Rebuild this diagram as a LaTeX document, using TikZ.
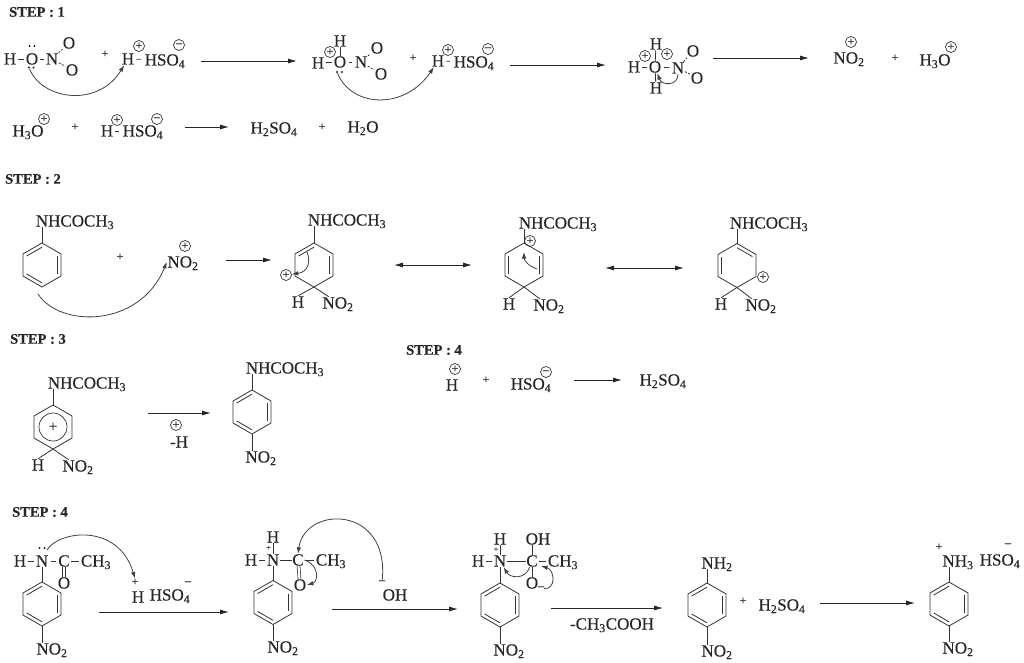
\documentclass[tikz,border=0pt]{standalone}
\usepackage{fontspec}
\setmainfont[FakeBold=0.35]{Liberation Serif}
\usepackage{tikz}
\usetikzlibrary{arrows.meta}
\usetikzlibrary{calc}
\newcommand{\chemfont}{\fontsize{17}{20}\selectfont}
\newcommand{\chs}[1]{\textsubscript{#1}}

\begin{document}
\begin{tikzpicture}[x=1pt,y=-1pt]
        \tikzset{atom/.style = {inner sep=0.5pt, text height=11pt, text depth=0pt, text=black!85, font=\chemfont}}
        \tikzset{steplabel/.style = {inner sep=0pt, anchor=west, text=black!85, font=\fontsize{14.5}{16}\selectfont\bfseries}}
        \tikzset{sgn/.style = {inner sep=0pt, text=black!85, font=\fontsize{12}{12}\selectfont}}
        \tikzset{tinysgn/.style = {inner sep=0pt, text=black!85, font=\fontsize{8.5}{9}\selectfont}}
        \tikzset{chg/.style = {circle, draw=black!80, line width=0.7pt, inner sep=0pt, minimum size=11pt, text=black!85, font=\fontsize{12}{12}\selectfont}}
        \tikzset{lp/.style = {circle, fill=black!85, inner sep=0pt, minimum size=2.4pt}}
        \tikzset{edge/.style = {-, draw=black!80, line width=0.8pt}}
        \tikzset{dbond/.style = {-, draw=black!80, line width=0.7pt, double, double distance=2.2pt}}
        \tikzset{nobond/.style = {-, draw=black!80, line width=0.8pt, dash pattern=on 2pt off 1.5pt}}
        \tikzset{arrow/.style = {-{Latex[length=9pt,width=5pt]}, draw=black!85, line width=0.8pt}}
        \tikzset{twoway/.style = {{Latex[length=9pt,width=5pt]}-{Latex[length=9pt,width=5pt]}, draw=black!85, line width=0.8pt}}
        \tikzset{curly/.style = {-{Latex[length=6.5pt,width=4.5pt]}, draw=black!75, line width=0.8pt}}

        \useasboundingbox (0,0) rectangle (1024,663);

        % rings
        \foreach \rname/\rx/\ry in {ra/42/265, rb/314/265, rc/524/265, rd/737/265.5, re/53/427, rf/252/412, rg/42/604, rh/273/602.5, ri/500/605, rj/707/605, rk/949/604} {
            \coordinate (\rname c) at (\rx,\ry);
            \foreach \k/\ang in {1/-90, 2/-30, 3/30, 4/90, 5/150, 6/210} {
                \coordinate (\rname\k) at ($(\rx,\ry)+(\ang:22)$);
            }
            \draw[edge] (\rname1) -- (\rname2) -- (\rname3) -- (\rname4) -- (\rname5) -- (\rname6) -- cycle;
        }
        \foreach \rname/\p/\q in {ra/6/1, ra/2/3, ra/4/5, rb/6/1, rb/2/3, rc/5/6, rc/2/3, rd/1/2, rd/5/6, rf/6/1, rf/2/3, rf/4/5, rg/6/1, rg/2/3, rg/4/5, rh/6/1, rh/2/3, rh/4/5, ri/6/1, ri/2/3, ri/4/5, rj/6/1, rj/2/3, rj/4/5, rk/6/1, rk/2/3, rk/4/5} {
            \draw[edge] ($(\rname\p)!.19!(\rname c)$) to ($(\rname\q)!.19!(\rname c)$);
        }

        % step 1
        \node[steplabel] (st1) at (9,12) {STEP : 1};

        \node[atom] (h1) at (10,59) {H};
        \node[atom] (o1) at (32,59) {O};
        \node[atom] (n1) at (52,59) {N};
        \node[atom] (o1a) at (69,43) {O};
        \node[atom] (o1b) at (72,70) {O};
        \node[sgn] (pl1) at (105,54) {+};
        \node[atom] (h2) at (128,59) {H};
        \node[atom] (hs1) at (165,60) {HSO\chs{4}};
        \node[chg] (cp1) at (139,46) {+};
        \node[chg] (cm1) at (179,45) {--};

        \node[atom] (h3) at (318,63) {H};
        \node[atom] (h3a) at (340,41) {H};
        \node[atom] (o2) at (340,62) {O};
        \node[atom] (n2) at (361,62) {N};
        \node[atom] (o2a) at (377,48) {O};
        \node[atom] (o2b) at (381,74) {O};
        \node[chg] (cp2) at (330,52) {+};
        \node[sgn] (pl2) at (413,58) {+};
        \node[atom] (h4) at (438,61) {H};
        \node[atom] (hs2) at (474,62) {HSO\chs{4}};
        \node[chg] (cp3) at (448,50) {+};
        \node[chg] (cm3) at (488,49) {--};

        \node[atom] (h5) at (634,67) {H};
        \node[atom] (h5a) at (656,44) {H};
        \node[atom] (o3) at (655,67) {O};
        \node[atom] (h5b) at (656,88) {H};
        \node[atom] (n3) at (678,68) {N};
        \node[atom] (o3a) at (693,51) {O};
        \node[atom] (o3b) at (697,78) {O};
        \node[chg] (cp4) at (645,56) {+};
        \node[chg] (cp5) at (667,54) {+};

        \node[atom] (no1) at (849,58) {NO\chs{2}};
        \node[chg] (cp6) at (851,42) {+};
        \node[sgn] (pl3) at (895,58) {+};
        \node[atom] (hto1) at (935,60) {H\chs{3}O};
        \node[chg] (cp7) at (951,47) {+};

        \node[atom] (hto2) at (28,131) {H\chs{3}O};
        \node[chg] (cp8) at (44,119) {+};
        \node[sgn] (pl4) at (75,127) {+};
        \node[atom] (h6) at (107,131) {H};
        \node[atom] (hs3) at (143,131) {HSO\chs{4}};
        \node[chg] (cp9) at (117,120) {+};
        \node[chg] (cm9) at (157,119) {--};
        \node[atom] (hso1) at (274,128) {H\chs{2}SO\chs{4}};
        \node[sgn] (pl5) at (322,127) {+};
        \node[atom] (hto3) at (363,127) {H\chs{2}O};

        \foreach \dname/\dx/\dy in {d1/29.5/46, d2/34.5/46, d3/29/67.5, d4/33.5/67.5, d5/337/72, d6/342/72, d7/39.5/548, d8/44.5/548} {
            \node[lp] (\dname) at (\dx,\dy) {};
        }

        \draw[edge,shorten <=1.5pt,shorten >=1.5pt] (h1) to (o1);
        \draw[edge,shorten <=1.5pt,shorten >=1.5pt] (o1) to (n1);
        \draw[nobond] (n1) to (o1a);
        \draw[nobond] (n1) to (o1b);
        \draw[edge,shorten <=1.5pt,shorten >=3pt] (h2) to (hs1);

        \draw[edge,shorten <=1pt,shorten >=1pt] (h3) to (o2);
        \draw[edge] (h3a) to (o2);
        \draw[edge,shorten <=2pt,shorten >=2pt] (o2) to (n2);
        \draw[nobond] (n2) to (o2a);
        \draw[nobond] (n2) to (o2b);
        \draw[edge,shorten <=1.5pt,shorten >=3pt] (h4) to (hs2);

        \draw[edge,shorten <=1pt,shorten >=1pt] (h5) to (o3);
        \draw[edge] (h5a) to (o3);
        \draw[edge] (h5b) to (o3);
        \draw[edge,shorten <=2pt,shorten >=2pt] (o3) to (n3);
        \draw[nobond] (n3) to (o3a);
        \draw[nobond] (n3) to (o3b);
        \draw[edge,shorten <=1.5pt,shorten >=3pt] (h6) to (hs3);

        \coordinate (s1) at (201,61);
        \coordinate (e1) at (297,61);
        \coordinate (s2) at (510,65);
        \coordinate (e2) at (606,65);
        \coordinate (s3) at (713,58);
        \coordinate (e3) at (809,58);
        \coordinate (s4) at (185,127);
        \coordinate (e4) at (229,127);
        \draw[arrow] (s1) to (e1);
        \draw[arrow] (s2) to (e2);
        \draw[arrow] (s3) to (e3);
        \draw[arrow] (s4) to (e4);

        \draw[curly] (d3) .. controls (42,100) and (98,108) .. (h2);
        \draw[curly] (d5) .. controls (352,108) and (405,110) .. (h4);
        \draw[curly] (n3) .. controls (678,86) and (662,86) .. (o3);

        % step 2
        \node[steplabel] (st2) at (5,179) {STEP : 2};

        \node[atom] (nha) at (75,221) {NHCOCH\chs{3}};
        \node[sgn] (pl6) at (120,257) {+};
        \node[atom] (no2a) at (183,262) {NO\chs{2}};
        \node[chg] (cp10) at (185,246) {+};

        \node[atom] (nhb) at (347,220) {NHCOCH\chs{3}};
        \node[chg] (cpb) at (286,275) {+};
        \node[atom] (hb) at (298,302) {H};
        \node[atom] (no2b) at (338,303) {NO\chs{2}};

        \node[atom] (nhc) at (558,223) {NHCOCH\chs{3}};
        \node[chg] (cpc) at (530,241) {+};
        \node[atom] (hc) at (509,304) {H};
        \node[atom] (no2c) at (549,305) {NO\chs{2}};

        \node[atom] (nhd) at (769,223) {NHCOCH\chs{3}};
        \node[chg] (cpd) at (763,277) {+};
        \node[atom] (hd) at (721,304) {H};
        \node[atom] (no2d) at (761,305) {NO\chs{2}};

        \draw[edge] (ra1) to (ra1 |- nha.south);
        \draw[edge] (rb1) to (rb1 |- nhb.south);
        \draw[edge] (rc1) to (rc1 |- nhc.south);
        \draw[edge] (rd1) to (rd1 |- nhd.south);
        \draw[edge] (rb4) to (hb.north);
        \draw[edge] (rc4) to (hc.north);
        \draw[edge] (rd4) to (hd.north);
        \draw[edge] (rb4) to ([xshift=7pt]no2b.north west);
        \draw[edge] (rc4) to ([xshift=7pt]no2c.north west);
        \draw[edge] (rd4) to ([xshift=7pt]no2d.north west);

        \coordinate (s5) at (226,260);
        \coordinate (e5) at (272,260);
        \coordinate (s6) at (394,265);
        \coordinate (e6) at (472,265);
        \coordinate (s7) at (605,268);
        \coordinate (e7) at (684,268);
        \draw[arrow] (s5) to (e5);
        \draw[twoway] (s6) to (e6);
        \draw[twoway] (s7) to (e7);

        \coordinate (s8) at (38,294);
        \coordinate (s9) at (307,252);
        \coordinate (s10) at (537,269);
        \coordinate (e10) at (524,252);
        \draw[curly] (s8) .. controls (60,328) and (140,328) .. (no2a.west);
        \draw[curly] (s9) .. controls (311,262) and (308,272) .. (cpb);
        \draw[curly] (s10) .. controls (528,266) and (524,260) .. (e10);

        % step 3
        \node[steplabel] (st3) at (10,339) {STEP : 3};

        \node[atom] (nhe) at (87,383) {NHCOCH\chs{3}};
        \node[chg,minimum size=28pt,font=\fontsize{15}{15}\selectfont] (cpe) at (rec) {+};
        \node[atom] (he) at (38,465) {H};
        \node[atom] (no2e) at (78,466) {NO\chs{2}};
        \node[chg] (cp11) at (176,425) {+};
        \node[atom] (mh) at (179,442) {-H};
        \node[atom] (nhf) at (285,368) {NHCOCH\chs{3}};
        \node[atom] (no2f) at (261,457) {NO\chs{2}};

        \draw[edge] (re1) to (re1 |- nhe.south);
        \draw[edge] (re4) to (he.north);
        \draw[edge] (re4) to ([xshift=7pt]no2e.north west);
        \draw[edge] (rf1) to (rf1 |- nhf.south);
        \draw[edge] (rf4) to (rf4 |- no2f.north);

        \coordinate (s11) at (148,413);
        \coordinate (e11) at (211,413);
        \draw[arrow] (s11) to (e11);

        % step 4, right of step 3
        \node[steplabel] (st4) at (406,350) {STEP : 4};
        \node[atom] (hp) at (452,385) {H};
        \node[chg] (cp12) at (455,369) {+};
        \node[sgn] (pl7) at (486,380) {+};
        \node[atom] (hs4) at (531,384) {HSO\chs{4}};
        \node[chg] (cm12) at (546,372) {--};
        \node[atom] (hso2) at (663,380) {H\chs{2}SO\chs{4}};

        \coordinate (s12) at (574,380);
        \coordinate (e12) at (622,380);
        \draw[arrow] (s12) to (e12);

        % step 4, bottom row
        \node[steplabel] (st5) at (12,512) {STEP : 4};

        \node[atom] (h41) at (20,561) {H};
        \node[atom] (n41) at (42,561) {N};
        \node[atom] (c41) at (64,561) {C};
        \node[atom] (ch41) at (96,561) {CH\chs{3}};
        \node[atom] (o41) at (64,583) {O};
        \node[atom] (no41) at (52,649) {NO\chs{2}};
        \node[sgn] (pl8) at (135,582) {+};
        \node[atom] (h42) at (138,597) {H};
        \node[atom] (hs5) at (170,595) {HSO\chs{4}};
        \node[sgn] (mn1) at (188,583) {--};

        \node[atom] (h43) at (273,537) {H};
        \node[atom] (h44) at (251,560) {H};
        \node[atom] (n42) at (273,560) {N};
        \node[tinysgn] (pl9) at (268.5,548) {+};
        \node[atom] (c42) at (298,560) {C};
        \node[atom] (ch42) at (331,560) {CH\chs{3}};
        \node[atom] (o42) at (300,585) {O};
        \node[atom] (no42) at (283,647) {NO\chs{2}};
        \node[sgn] (mn2) at (382,582) {--};
        \node[atom] (oh1) at (395,595) {OH};

        \node[atom] (h45) at (500,539) {H};
        \node[atom] (h46) at (478,561) {H};
        \node[atom] (n43) at (500,561) {N};
        \node[tinysgn] (pl10) at (496,549.5) {+};
        \node[atom] (c43) at (532,561) {C};
        \node[atom] (oh2) at (538,539) {OH};
        \node[atom] (ch43) at (563,561) {CH\chs{3}};
        \node[atom] (o43) at (532,583) {O};
        \node[sgn] (mn3) at (541,588) {--};
        \node[atom] (no43) at (509,650) {NO\chs{2}};
        \node[atom] (ac) at (612,624) {-CH\chs{3}COOH};

        \node[atom] (nh2) at (717,563) {NH\chs{2}};
        \node[atom] (no44) at (717,651) {NO\chs{2}};
        \node[sgn] (pl11) at (743,601) {+};
        \node[atom] (hso3) at (782,605) {H\chs{2}SO\chs{4}};

        \node[sgn] (pl12) at (939,547) {+};
        \node[atom] (nh3) at (958,561) {NH\chs{3}};
        \node[atom] (hs6) at (1000,560) {HSO\chs{4}};
        \node[sgn] (mn4) at (1008,545) {--};
        \node[atom] (no45) at (958,648) {NO\chs{2}};

        \draw[edge,shorten <=1pt,shorten >=1pt] (h41) to (n41);
        \draw[edge,shorten <=2pt,shorten >=2pt] (n41) to (c41);
        \draw[edge,shorten <=1pt,shorten >=1pt] (c41) to (ch41);
        \draw[dbond] (c41) to (o41);
        \draw[edge] (rg1) to (n41);
        \draw[edge] (rg4) to (rg4 |- no41.north);

        \draw[edge] (h43) to (n42);
        \draw[edge,shorten <=1pt,shorten >=1pt] (h44) to (n42);
        \draw[edge] (n42) to (c42);
        \draw[edge,shorten <=1pt,shorten >=1pt] (c42) to (ch42);
        \draw[dbond] (c42) to (o42);
        \draw[edge] (rh1) to (n42);
        \draw[edge] (rh4) to (rh4 |- no42.north);

        \draw[edge] (h45) to (n43);
        \draw[edge,shorten <=1pt,shorten >=1pt] (h46) to (n43);
        \draw[edge] (n43) to (c43);
        \draw[edge] (c43) to (c43 |- oh2.south);
        \draw[edge] (c43) to (o43);
        \draw[edge,shorten <=1pt,shorten >=1pt] (c43) to (ch43);
        \draw[edge] (ri1) to (n43);
        \draw[edge] (ri4) to (ri4 |- no43.north);

        \draw[edge] (rj1) to (rj1 |- nh2.south);
        \draw[edge] (rj4) to (rj4 |- no44.north);
        \draw[edge] (rk1) to (rk1 |- nh3.south);
        \draw[edge] (rk4) to (rk4 |- no45.north);

        \coordinate (s13) at (99,612);
        \coordinate (e13) at (229,612);
        \coordinate (s14) at (332,609);
        \coordinate (e14) at (458,609);
        \coordinate (s15) at (551,608);
        \coordinate (e15) at (663,608);
        \coordinate (s16) at (820,603);
        \coordinate (e16) at (915,603);
        \draw[arrow] (s13) to (e13);
        \draw[arrow] (s14) to (e14);
        \draw[arrow] (s15) to (e15);
        \draw[arrow] (s16) to (e16);

        \coordinate (s17) at (47,550);
        \coordinate (e17) at (541,566);
        \draw[curly] (s17) .. controls (58,531) and (118,522) .. (pl8.north);
        \draw[curly] (mn2) .. controls (390,505) and (305,505) .. (c42.north);
        \draw[curly] (c42.east) .. controls (320,565) and (318,582) .. (o42.east);
        \draw[curly] (c43) .. controls (525,580) and (510,578) .. (n43);
        \draw[curly] (mn3) .. controls (556,590) and (555,570) .. (e17);
    \end{tikzpicture}
\end{document}
